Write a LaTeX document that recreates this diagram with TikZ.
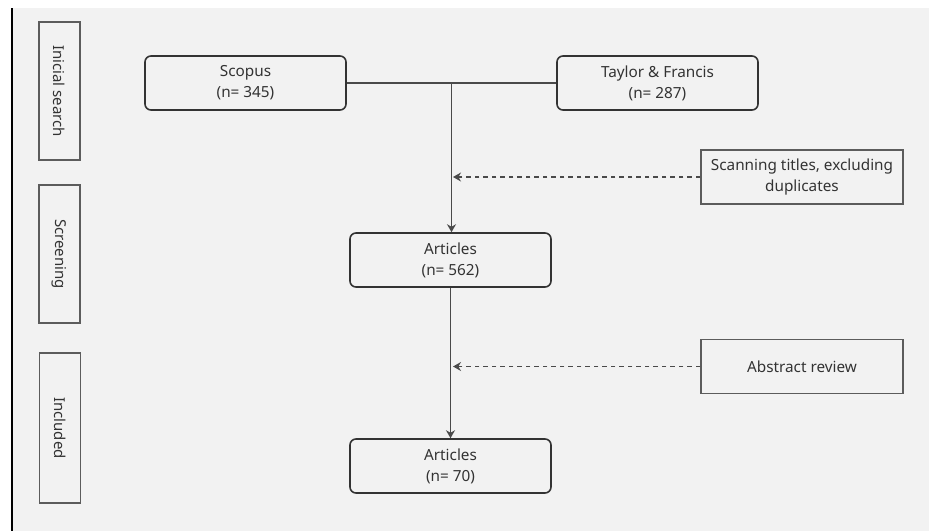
\documentclass[tikz,border=0pt]{standalone}
\usepackage{fontspec}
\setmainfont{Noto Sans}
\usetikzlibrary{arrows.meta, calc, positioning}

\definecolor{bgGray}{HTML}{F2F2F2}
\definecolor{inkGray}{HTML}{333333}
\definecolor{frameGray}{HTML}{5C5C5C}
\definecolor{wireGray}{HTML}{4A4A4A}

\tikzset{
    stagebox/.style={draw=frameGray, line width=1.5pt, rotate=-90, minimum height=41pt,
        inner sep=0pt, text=inkGray, font=\fontsize{15}{18}\selectfont},
    roundbox/.style={draw=inkGray, line width=1.6pt, rounded corners=6pt, minimum width=201pt,
        minimum height=54pt, align=center, inner sep=0pt, text=inkGray,
        font=\fontsize{15.3}{21}\selectfont},
    notebox/.style={draw=frameGray, line width=1.5pt, minimum width=202pt, minimum height=54pt,
        align=center, inner sep=0pt, text=inkGray, font=\fontsize{15.3}{21}\selectfont},
    flow/.style={draw=wireGray, line width=1.2pt, -{Stealth[length=8pt, width=9pt]}},
    hint/.style={draw=wireGray, line width=1.1pt, dash pattern=on 4.5pt off 4pt,
        -{Stealth[length=8pt, width=9pt]}}
}

\begin{document}
\begin{tikzpicture}[x=1pt, y=-1pt]
    % Background and page margin
    \useasboundingbox (0,0) rectangle (929,531);
    \fill[white] (0,0) rectangle (929,531);
    \fill[bgGray] (12,8) rectangle (929,531);
    \draw[black, line width=1.6pt] (12,8) -- (12,531);

    % Stage labels
    \node[stagebox, minimum width=138pt] (stage1) at (59.5,91) {Inicial search};
    \node[stagebox, minimum width=138pt] (stage2) at (59.5,254) {Screening};
    \node[stagebox, minimum width=150pt] (stage3) at (60,428) {Included};

    % Sources
    \node[roundbox] (scopus) at (245.5,83) {Scopus\\(n= 345)};
    \node[roundbox] (taylor) at (657.5,83) {Taylor \& Francis\\(n= 287)};

    % Articles
    \node[roundbox] (art1) at (450.5,260) {Articles\\(n= 562)};
    \node[roundbox] (art2) at (450.5,466) {Articles\\(n= 70)};

    % Filtering steps
    \node[notebox] (scan) at (802,177) {Scanning titles, excluding\\duplicates};
    \node[notebox] (abstr) at (802,366.5) {Abstract review};

    % Connectors
    \draw[draw=wireGray, line width=1.2pt] (scopus.east) -- (taylor.west);
    \coordinate (join) at ($(scopus.east)!0.5!(taylor.west)$);
    \draw[flow] (join) -- (join |- art1.north);
    \draw[flow] (art1.south) -- (art2.north);

    \coordinate (scanEnd) at ($(scan.west -| art1.north) + (2.5,0)$);
    \coordinate (abstrEnd) at ($(abstr.west -| art1.north) + (2.5,0)$);
    \draw[hint] (scan.west) -- (scanEnd);
    \draw[hint] (abstr.west) -- (abstrEnd);
\end{tikzpicture}
\end{document}
